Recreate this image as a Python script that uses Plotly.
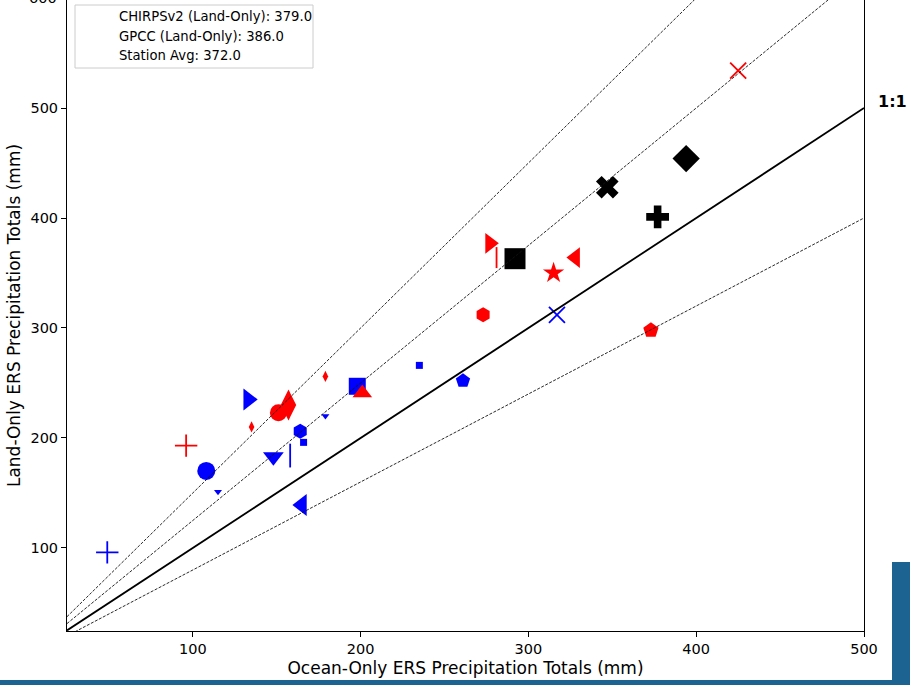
import plotly.graph_objects as go

# ---- data ----
ocean_chirps = [49, 108, 115, 133, 148, 158, 164, 166, 165, 179, 198, 235, 261, 317]
land_chirps = [96, 170, 151, 235, 183, 184, 206, 196, 139, 220, 247, 266, 252, 312]
sym_chirps = ['cross-thin-open', 'circle', 'triangle-down', 'triangle-right', 'triangle-down',
              'line-ns-open', 'hexagon', 'square', 'triangle-left', 'triangle-down', 'square',
              'square', 'pentagon', 'x-thin-open']
size_chirps = [16, 18, 7, 19, 18, 17, 15, 7, 19, 7, 17, 7, 15, 16]

ocean_gpcc = [96, 135, 151, 157, 179, 201, 273, 277, 281, 315, 328, 373, 425]
land_gpcc = [193, 210, 223, 230, 256, 241, 312, 377, 364, 350, 364, 298, 534]
sym_gpcc = ['cross-thin-open', 'diamond-tall', 'circle', 'diamond-tall', 'diamond-tall', 'triangle-up',
            'hexagon', 'triangle-right', 'line-ns-open', 'star', 'triangle-left', 'pentagon', 'x-thin-open']
size_gpcc = [16, 8, 17, 22, 8, 17, 15, 18, 15, 16, 18, 16, 16]

ocean_station = [292, 347, 377, 394]
land_station = [363, 428, 401, 454]
sym_station = ['square', 'x', 'cross', 'diamond']
size_station = [21, 20, 19, 21]

legend_labels = ["CHIRPSv2 (Land-Only): 379.0", "GPCC (Land-Only): 386.0", "Station Avg: 372.0"]
ratio_lines = [1.5, 1.25, 0.8]
x_ticks = [100, 200, 300, 400, 500]
y_ticks = [100, 200, 300, 400, 500]
x_range = [25, 500]
y_range = [24.5, 598.2]

FONT = "DejaVu Sans"
PW, PH = 797, 631  # plot area in px (for placing frame decorations)

fig = go.Figure()


def add_series(xs, ys, syms, sizes, color):
    lw = [1.8 if s.endswith('-open') else 0 for s in syms]
    fig.add_trace(go.Scatter(
        x=xs, y=ys, mode='markers', showlegend=False, hoverinfo='skip',
        marker=dict(symbol=syms, size=sizes, color=color, opacity=1,
                    line=dict(color=color, width=lw)),
        cliponaxis=False))


add_series(ocean_chirps, land_chirps, sym_chirps, size_chirps, '#0000ff')
add_series(ocean_gpcc, land_gpcc, sym_gpcc, size_gpcc, '#ff0000')
add_series(ocean_station, land_station, sym_station, size_station, '#000000')

# reference lines
for r in ratio_lines:
    fig.add_trace(go.Scatter(x=x_range, y=[x_range[0] * r, x_range[1] * r], mode='lines',
                             showlegend=False, hoverinfo='skip',
                             line=dict(color='#111111', width=0.9, dash='3px,1.5px')))
fig.add_trace(go.Scatter(x=x_range, y=x_range, mode='lines', showlegend=False, hoverinfo='skip',
                         line=dict(color='black', width=1.8)))

# legend box (matplotlib-style, handles invisible)
fig.add_shape(type='rect', xref='paper', yref='paper', x0=8 / PW, x1=246 / PW,
              y0=1 - 68 / PH, y1=1 - 5 / PH, fillcolor='white',
              line=dict(color='#cccccc', width=1), layer='above')
for i, lab in enumerate(legend_labels):
    fig.add_annotation(x=50 / PW, y=1 - (16.5 + 19.5 * i) / PH, xref='paper', yref='paper',
                       text=lab, showarrow=False, xanchor='left', yanchor='middle',
                       font=dict(family=FONT, size=13.2, color='black'))

fig.add_annotation(x=500, y=500, xref='x', yref='y', text='<b>1:1</b>', showarrow=False,
                   xanchor='left', yanchor='middle', xshift=12, yshift=7,
                   font=dict(family=FONT, size=16, color='black'))
# tick label of 600 (mostly cut off at the top edge, as in the reference)
fig.add_annotation(x=0, y=1 + 2 / PH, xref='paper', yref='paper', text='600', showarrow=False,
                   xanchor='right', yanchor='middle', xshift=-8,
                   font=dict(family=FONT, size=14.5, color='black'))

# decorative blue frame pieces
bar = '#1c6391'
fig.add_shape(type='rect', xref='paper', yref='paper', x0=-67 / PW, x1=1 + 46 / PW,
              y0=-54 / PH, y1=-49 / PH, fillcolor=bar, line=dict(width=0), layer='above')
fig.add_shape(type='rect', xref='paper', yref='paper', x0=1 + 28 / PW, x1=1 + 46 / PW,
              y0=-54 / PH, y1=(PH - 562) / PH, fillcolor=bar, line=dict(width=0), layer='above')

axis_common = dict(showgrid=False, zeroline=False, showline=True, linecolor='black', linewidth=1,
                   ticks='outside', ticklen=5, tickcolor='black', tickwidth=1,
                   tickfont=dict(family=FONT, size=14.5, color='black'))
fig.update_xaxes(range=x_range, tickvals=x_ticks, mirror=False,
                 title=dict(text='Ocean-Only ERS Precipitation Totals (mm)', standoff=5,
                            font=dict(family=FONT, size=17, color='black')),
                 **axis_common)
fig.update_yaxes(range=y_range, tickvals=y_ticks, mirror=True,
                 title=dict(text='Land-Only ERS Precipitation Totals (mm)', standoff=5,
                            font=dict(family=FONT, size=17, color='black')),
                 **axis_common)

fig.update_layout(
    width=910, height=685,
    margin=dict(l=67, r=46, t=0, b=54, autoexpand=False),
    paper_bgcolor='white', plot_bgcolor='white',
    font=dict(family=FONT),
    showlegend=False,
)

fig.write_html("out.html")
